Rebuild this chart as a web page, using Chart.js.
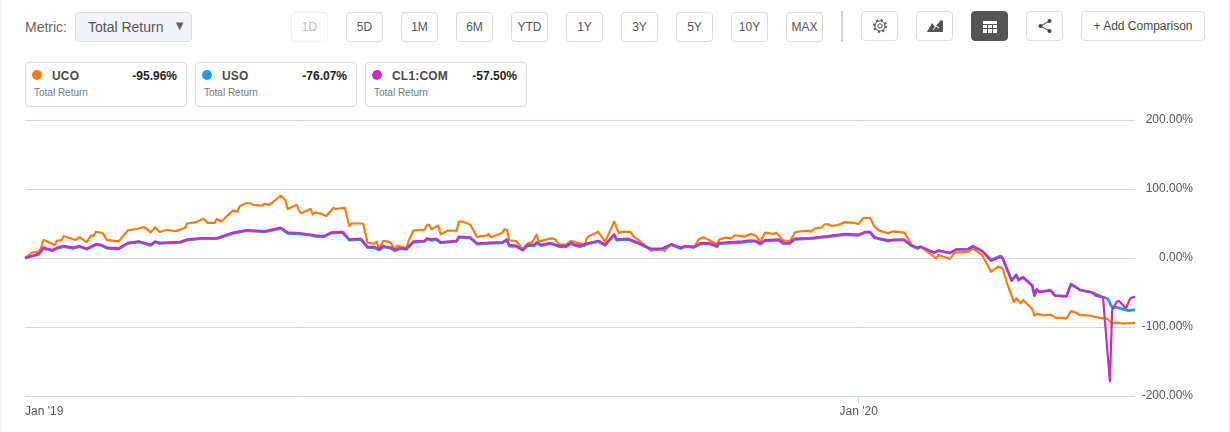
<!DOCTYPE html>
<html>
<head>
<meta charset="utf-8">
<title>Total Return</title>
<script src="https://cdn.jsdelivr.net/npm/chart.js@4/dist/chart.umd.min.js"></script>
<style>
  html, body { margin: 0; padding: 0; background: #fff; }
  body { width: 1230px; height: 432px; position: relative; overflow: hidden; font-family: "Liberation Sans", Arial, sans-serif; color: #555; }
  .edge { position: absolute; top: 0; bottom: 0; width: 2px; background: #f5f5f8; }
  .btn, .card, .metric, .label { position: absolute; box-sizing: border-box; }
  .btn { top: 12px; width: 37px; height: 30px; line-height: 28px; text-align: center; font-size: 12px; background: #fff; border: 1px solid #ddd; border-radius: 4px; }
  .btn.off { color: #bbb; border-color: #eee; }
  .btn.tool { top: 11px; }
  .btn.dark { background: #555; border-color: #555; }
  .btn svg { display: block; margin: 6px auto 0; }
  .metric { left: 75px; top: 12px; width: 117px; height: 30px; line-height: 28px; padding-left: 12px; font-size: 14px; background: #f2f3f7; border: 1px solid #ddd; border-radius: 4px; }
  .metric span { position: absolute; right: 5px; top: -1px; font-size: 13px; color: #666; }
  .sep { position: absolute; left: 841px; top: 11px; width: 2px; height: 31px; background: #d4d4d4; }
  .card { top: 62px; width: 162px; height: 45px; border: 1px solid #ddd; border-radius: 4px; background: #fff; }
  .card i { position: absolute; left: 6px; top: 7px; width: 10px; height: 10px; border-radius: 50%; }
  .card b { position: absolute; left: 26px; top: 6px; font-size: 12px; font-weight: 700; color: #4a4a4a; letter-spacing: 0.2px; }
  .card em { position: absolute; right: 9px; top: 6px; font-size: 12px; font-style: normal; font-weight: 700; color: #222; }
  .card small { position: absolute; left: 8px; top: 24px; font-size: 10px; color: #777; }
  #wrap { position: absolute; left: 0; top: 110px; width: 1230px; height: 322px; }
</style>
</head>
<body>
<div class="edge" style="left:0"></div>
<div class="edge" style="right:0"></div>
<div class="label" style="left:25px;top:19px;font-size:14px;color:#666">Metric:</div>
<div class="metric">Total Return<span>▼</span></div>
<div id="ranges"></div>
<div class="sep"></div>
<div class="btn tool" style="left:861px"><svg width="16" height="16" viewBox="0 0 16 16" fill="none" stroke="#555"><circle cx="8" cy="8" r="2.2"/><circle cx="8" cy="8" r="5"/><circle cx="8" cy="8" r="6" stroke-width="2" stroke-dasharray="2 2.7"/></svg></div>
<div class="btn tool" style="left:916px"><svg width="18" height="16" viewBox="0 0 18 16"><path d="M1 14 L6 5 L9 9 L15 2 L17 3 L17 14 Z" fill="#555"/><path d="M7 12 L10 8 L13 10" stroke="#fff" fill="none"/></svg></div>
<div class="btn tool dark" style="left:971px"><svg width="14" height="16" viewBox="0 0 14 16"><path d="M0 3 H14 V15 H0 Z" fill="#fff"/><path d="M0 6.5 H14 M0 10.5 H14 M4.5 6.5 V15 M9.5 6.5 V15" stroke="#555"/></svg></div>
<div class="btn tool" style="left:1026px"><svg width="14" height="16" viewBox="0 0 14 16" fill="#444"><circle cx="11.5" cy="3" r="2"/><circle cx="2.5" cy="8" r="2"/><circle cx="11.5" cy="13" r="2"/><path d="M11.5 3 L2.5 8 L11.5 13" stroke="#444" fill="none"/></svg></div>
<div class="btn tool" style="left:1081px;width:124px;color:#444">+ Add Comparison</div>
<div id="cards"></div>
<div id="wrap"><canvas id="returnChart"></canvas></div>

<script>
const rangeLabels = ["1D", "5D", "1M", "6M", "YTD", "1Y", "3Y", "5Y", "10Y", "MAX"];
const cardNames = ["UCO", "USO", "CL1:COM"];
const cardReturns = ["-95.96%", "-76.07%", "-57.50%"];
const seriesColors = ["#ff7a0d", "#2196f3", "#cf28c4"];

// days since 1 Jan 2019 (% total return)
const ucoDays = [0, 3, 6, 7, 8, 9, 13, 14, 16, 17, 22, 24, 27, 29, 30, 31, 34, 36, 41, 45, 49, 52, 55, 57, 59, 62, 66, 70, 71, 75, 78, 80, 83, 84, 86, 91, 93, 94, 97, 99, 100, 104, 105, 107, 112, 114, 115, 119, 120, 121, 125, 126, 127, 129, 132, 135, 136, 140, 142, 143, 148, 150, 153, 154, 155, 157, 160, 162, 163, 167, 168, 170, 175, 176, 177, 178, 181, 182, 185, 189, 190, 192, 195, 198, 200, 202, 203, 204, 209, 210, 211, 212, 215, 218, 220, 222, 224, 225, 230, 232, 234, 237, 239, 241, 243, 245, 246, 247, 251, 254, 258, 260, 261, 265, 267, 268, 274, 279, 280, 283, 284, 287, 289, 293, 295, 297, 303, 304, 307, 309, 311, 315, 318, 320, 322, 324, 328, 329, 332, 335, 337, 338, 343, 344, 346, 349, 350, 352, 353, 356, 359, 363, 365, 367, 370, 372, 374, 378, 380, 385, 388, 390, 392, 395, 399, 400, 405, 407, 413, 415, 419, 423, 426, 428, 430, 433, 434, 436, 437, 441, 442, 443, 446, 449, 451, 456, 458, 460, 462, 463, 467, 470, 474, 476, 478, 481, 486];
const ucoValues = [0, 7.7, 9.2, 14, 26, 25, 18.4, 25, 26, 32, 26, 30, 23, 33, 32, 38, 36, 26, 24, 40, 42, 45, 37, 44.5, 37.7, 40.6, 39, 43.5, 50, 52, 57, 51, 51, 56.5, 53, 68.6, 67, 75, 79.7, 79, 77, 76, 78.7, 77, 90.3, 84, 71, 77, 68.6, 65, 71, 63, 66, 64.7, 61, 72.5, 71, 73, 46.4, 50, 50, 22, 20.8, 23.7, 13, 25, 22.7, 12, 18, 14.5, 25, 39.6, 41, 48, 48, 41.5, 47, 34, 39.6, 39.6, 52.7, 52.7, 48.3, 30, 32, 32.4, 35, 30, 36.7, 42, 40.6, 25.6, 24.6, 12.6, 21, 22.7, 34, 23.7, 28.5, 27.5, 19.3, 19.3, 25, 22.7, 21.3, 17.4, 28.5, 32, 38, 23.7, 52.7, 35.8, 38, 38, 29.5, 27.6, 10.6, 12.6, 10, 20.3, 19, 13.6, 17.4, 15.5, 27, 30, 20.3, 27, 29.5, 28, 33, 31, 35, 32, 23.7, 36.7, 34.8, 36.7, 25, 25, 36.7, 38, 39.6, 38, 43, 44.5, 48.8, 48.8, 46.4, 47.8, 52, 51, 49, 58, 58, 45.4, 39.6, 35.7, 38.6, 36.7, 20.3, 14, 16.4, 9.2, -0.5, 4.4, -1.4, 7.7, 9, 14, 4.4, -19.8, -12.5, -15, -36.7, -64, -58.4, -65.7, -60.8, -73.9, -83.5, -81, -83, -82, -86.5, -87.4, -76.8, -79, -83, -82.6, -84, -86.5, -88.4, -95, -93.7, -95, -94];

const usoDays = [0, 6, 8, 12, 14, 17, 21, 24, 27, 31, 33, 36, 41, 45, 50, 55, 57, 59, 68, 71, 77, 84, 91, 97, 105, 112, 115, 120, 125, 128, 131, 134, 139, 142, 147, 150, 153, 155, 157, 160, 162, 164, 167, 170, 175, 176, 178, 180, 182, 189, 190, 195, 198, 203, 209, 211, 212, 215, 218, 220, 223, 224, 226, 230, 234, 237, 239, 241, 243, 246, 251, 254, 258, 259, 264, 268, 274, 279, 283, 287, 289, 293, 296, 300, 303, 304, 314, 318, 320, 322, 324, 330, 332, 335, 337, 344, 352, 359, 365, 368, 370, 372, 374, 378, 380, 385, 388, 391, 392, 398, 400, 405, 408, 413, 415, 419, 423, 427, 428, 432, 434, 435, 437, 441, 442, 443, 444, 449, 451, 456, 458, 461, 462, 467, 471, 474, 476, 478, 483, 486];
const usoValues = [0, 5.3, 14, 10.6, 14, 16.4, 14, 16.4, 12.6, 19.3, 18.8, 14, 13, 21.3, 23.2, 18.4, 23.2, 21.3, 22.7, 26, 28, 28, 35.7, 39.6, 38, 43, 35.7, 35, 33, 31, 31, 36, 37, 26, 27, 15, 15, 11.6, 16, 14.5, 10.6, 13.5, 12.6, 22.7, 24, 27.5, 25.6, 27, 22, 24, 30, 29, 20, 21.3, 22, 26, 17.4, 17, 11, 18, 18, 22, 18, 21, 16.4, 16.4, 20.8, 18, 16.4, 20, 24, 18.4, 33.4, 26, 27, 22, 12.6, 13, 19.3, 14, 16.4, 15.5, 20.8, 20.3, 16.4, 20.8, 22.7, 24.6, 24, 20, 25, 26, 20.8, 21.3, 27, 28, 31, 33.8, 33, 37, 37, 29, 27.6, 24.6, 26, 26, 18, 14, 16.4, 7.7, 10.6, 7.2, 12.6, 13, 17, 10.6, -2.9, 3, 0.5, -32.8, -24.6, -31.9, -28, -40, -54.6, -45.4, -49, -46.8, -54.6, -55.5, -38, -44, -46.4, -49.7, -55.5, -59, -71.5, -71.5, -76.3, -75];

const cl1Days = [0, 6, 8, 12, 14, 17, 21, 24, 27, 31, 33, 36, 41, 45, 50, 55, 57, 59, 68, 71, 77, 84, 91, 97, 105, 112, 115, 120, 125, 128, 131, 134, 139, 142, 147, 150, 153, 155, 157, 160, 162, 164, 167, 170, 175, 176, 178, 180, 182, 189, 190, 195, 198, 203, 209, 211, 212, 215, 218, 220, 223, 224, 226, 230, 234, 237, 239, 241, 243, 246, 251, 254, 258, 259, 264, 268, 274, 279, 283, 287, 289, 293, 296, 300, 303, 304, 314, 318, 320, 322, 324, 330, 332, 335, 337, 344, 352, 359, 365, 368, 370, 372, 374, 378, 380, 385, 388, 391, 392, 398, 400, 405, 408, 413, 415, 419, 423, 427, 428, 432, 434, 435, 437, 441, 442, 443, 444, 449, 451, 456, 458, 461, 462, 467, 469, 472, 475, 476, 478, 479, 482, 484, 486];
const cl1Values = [0, 6, 15, 11.5, 15, 17.5, 15, 17.5, 13.5, 20, 19.5, 15, 14, 22, 24, 19.5, 24, 22, 23.5, 27, 29, 29, 37, 40.5, 39, 44, 37, 36, 34, 32.5, 32, 37, 38, 27, 28, 16.5, 16, 13, 17, 15.5, 12, 14.5, 13.5, 24, 25, 28.5, 27, 28, 23, 25, 31, 30, 21, 22.5, 23, 27, 19, 18, 12, 19, 19, 23, 19, 22, 17.5, 17.5, 22, 19, 18, 21, 25, 19.5, 34.5, 27, 28, 23, 13.5, 14, 20, 15, 17.5, 16.5, 22, 21.5, 17.5, 22, 24, 25.5, 25, 21, 26, 27, 22, 22.5, 28, 29, 32, 35, 34, 38, 38, 30, 28.5, 25.5, 26.5, 26.5, 18.5, 14.5, 16.4, 8, 10.6, 7.5, 12.6, 13, 17, 10, -4, 1.5, 0, -32.8, -24.6, -31.9, -28, -40, -54.6, -45.4, -49, -46.8, -54.6, -55.5, -38, -44, -46.4, -49.7, -55, -57, -179, -75.4, -63.3, -62.3, -72.9, -58.4, -56];

const tickDays = [0, 365, 486];
const tickLabels = ["Jan '19", "Jan '20", ""];
const yTicks = [200, 100, 0, -100, -200];

const gridColor = "#ccd6eb";
const textColor = "#555";

// page furniture around the chart
const rangeStart = 291;
const rangeStep = 55;
document.getElementById("ranges").innerHTML = rangeLabels
  .map((r, i) => `<div class="btn${i === 0 ? " off" : ""}" style="left:${rangeStart + i * rangeStep}px">${r}</div>`)
  .join("");
document.getElementById("cards").innerHTML = cardNames
  .map((name, i) => `<div class="card" style="left:${25 + i * 170}px"><i style="background:${seriesColors[i]}"></i><b>${name}</b><em>${cardReturns[i]}</em><small>Total Return</small></div>`)
  .join("");

function toPoints(days, values) {
  return days.map((d, i) => ({ x: d, y: values[i] }));
}

function lineSet(label, days, values, color, width) {
  return {
    label,
    data: toPoints(days, values),
    borderColor: color,
    borderWidth: width,
    borderJoinStyle: "round",
    pointRadius: 0,
    tension: 0,
    clip: false,
  };
}

const ctx = document.getElementById("returnChart");
const returnChart = new Chart(ctx, {
  type: "line",
  data: {
    // first dataset is painted on top
    datasets: [
      lineSet(cardNames[2], cl1Days, cl1Values, seriesColors[2], 2.2),
      lineSet(cardNames[1], usoDays, usoValues, seriesColors[1], 2.8),
      lineSet(cardNames[0], ucoDays, ucoValues, seriesColors[0], 2.2),
    ],
  },
  options: {
    responsive: true,
    maintainAspectRatio: false,
    animation: false,
    layout: { padding: { top: 10, right: 37, left: 25, bottom: 0 } },
    plugins: { legend: { display: false }, tooltip: { enabled: false } },
    scales: {
      x: {
        type: "linear",
        min: 0,
        max: 486,
        border: { display: false },
        grid: {
          drawOnChartArea: false,
          tickLength: 8,
          tickColor: (c) => (c.tick && c.tick.value === 365 ? gridColor : "transparent"),
        },
        afterBuildTicks: (scale) => {
          scale.ticks = tickDays.map((value) => ({ value }));
        },
        afterFit: (scale) => {
          scale.height = 36;
        },
        ticks: {
          autoSkip: false,
          maxRotation: 0,
          align: "inner",
          padding: 0,
          color: textColor,
          font: { family: "'Liberation Sans', Arial, sans-serif", size: 12 },
          callback: (value) => tickLabels[tickDays.indexOf(value)],
        },
      },
      y: {
        position: "right",
        min: -200,
        max: 200,
        border: { display: false },
        grid: { color: gridColor, drawTicks: false },
        afterBuildTicks: (scale) => {
          scale.ticks = yTicks.map((value) => ({ value }));
        },
        afterFit: (scale) => {
          scale.width = 58;
          // tick padding also pads the top, which would push the 200% line down
          scale.paddingTop = 0;
          scale.paddingBottom = 0;
        },
        ticks: {
          crossAlign: "far",
          padding: 12,
          color: textColor,
          font: { family: "'Liberation Sans', Arial, sans-serif", size: 12 },
          callback: (value) => value.toFixed(2) + "%",
        },
      },
    },
  },
});
</script>
</body>
</html>
